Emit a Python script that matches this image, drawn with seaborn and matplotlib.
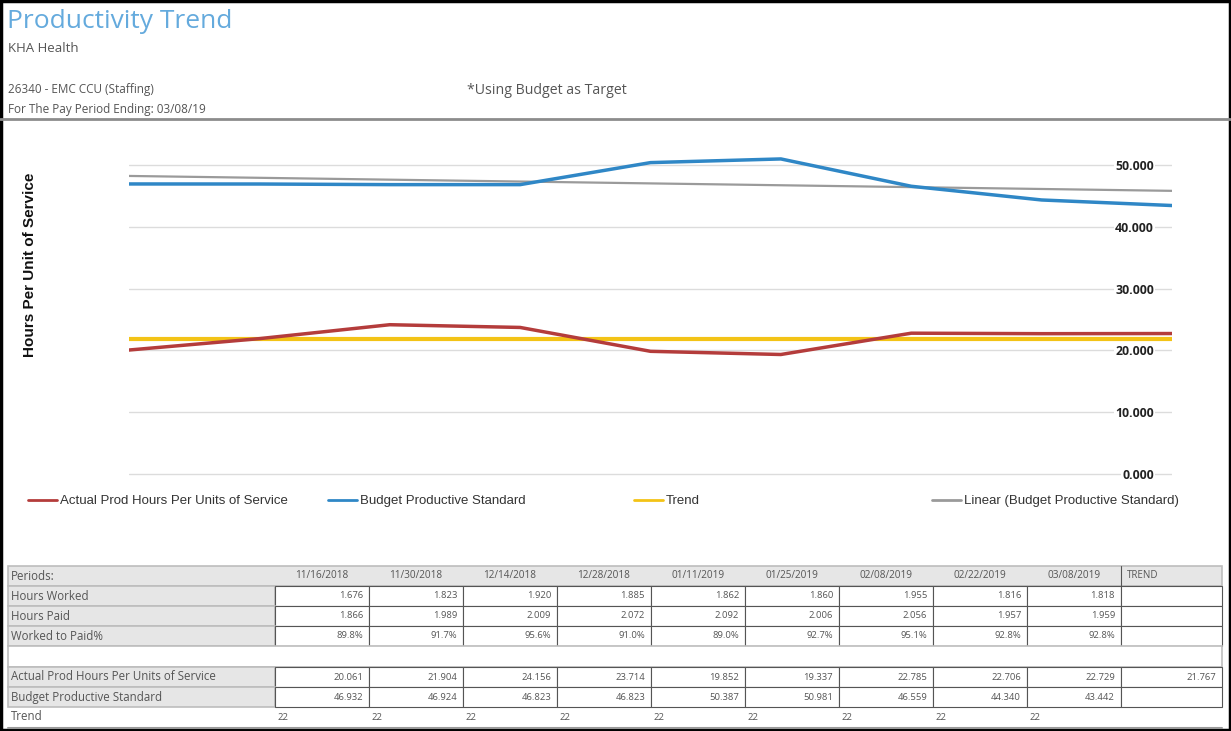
import matplotlib
matplotlib.use("Agg")
import matplotlib.pyplot as plt
import numpy as np
import pandas as pd
import seaborn as sns
from matplotlib.lines import Line2D
from matplotlib.patches import Rectangle

PERIODS = ["11/16/2018", "11/30/2018", "12/14/2018", "12/28/2018", "01/11/2019",
           "01/25/2019", "02/08/2019", "02/22/2019", "03/08/2019"]
HOURS_WORKED = [1.676, 1.823, 1.920, 1.885, 1.862, 1.860, 1.955, 1.816, 1.818]
HOURS_PAID = [1.866, 1.989, 2.009, 2.072, 2.092, 2.006, 2.056, 1.957, 1.959]
WORKED_TO_PAID = [89.8, 91.7, 95.6, 91.0, 89.0, 92.7, 95.1, 92.8, 92.8]
ACTUAL = [20.061, 21.904, 24.156, 23.714, 19.852, 19.337, 22.785, 22.706, 22.729]
BUDGET = [46.932, 46.924, 46.823, 46.823, 50.387, 50.981, 46.559, 44.340, 43.442]
TREND_VALUE = 21.767
TREND_ROW = [22] * 9
YTICKS = [0, 10, 20, 30, 40, 50]

RED = "#b43c3b"
BLUE = "#2f87c6"
YELLOW = "#f3c316"
GRAY = "#9a9a9a"
TXT = "#555555"

sns.set_theme(style="white")
plt.rcParams["font.family"] = ["Open Sans", "DejaVu Sans"]

W, H = 1231, 731
fig = plt.figure(figsize=(W / 100, H / 100), dpi=100)

df = pd.DataFrame({
    "x": np.arange(len(PERIODS)),
    "actual": ACTUAL,
    "budget": BUDGET,
    "trend": [TREND_VALUE] * len(PERIODS),
})

# chart area in pixels: x 129..1172, y(0)=474, 10 units = 61.8 px
left, right = 129, 1172
ymin, ymax = -0.5, 55
bottom_px = 474 + 0.5 * 6.18
top_px = 474 - ymax * 6.18
ax = fig.add_axes([left / W, 1 - bottom_px / H, (right - left) / W, (bottom_px - top_px) / H])

sns.regplot(data=df, x="x", y="budget", scatter=False, ci=None, ax=ax,
            line_kws=dict(color=GRAY, lw=1.6, zorder=2))
sns.lineplot(data=df, x="x", y="trend", ax=ax, color=YELLOW, lw=3, zorder=3)
sns.lineplot(data=df, x="x", y="actual", ax=ax, color=RED, lw=2.5, zorder=4)
sns.lineplot(data=df, x="x", y="budget", ax=ax, color=BLUE, lw=2.5, zorder=4)

ax.set_xlim(0, len(PERIODS) - 1)
ax.set_ylim(ymin, ymax)
ax.set_xticks([])
ax.set_yticks(YTICKS)
ax.set_yticklabels([f"{v:.3f}" for v in YTICKS])
ax.yaxis.tick_right()
ax.tick_params(axis="y", length=0, pad=-13, labelsize=8.8, labelcolor="#222222")
for lab in ax.get_yticklabels():
    lab.set_ha("right")
    lab.set_fontweight("bold")
    lab.set_bbox(dict(facecolor="white", edgecolor="none", pad=1))
ax.grid(axis="y", color="#dcdcdc", lw=1)
ax.set_xlabel("")
ax.set_ylabel("")
for s in ax.spines.values():
    s.set_visible(False)

fig.text(30 / W, 1 - 265 / H, "Hours Per Unit of Service", rotation=90,
         ha="center", va="center", fontsize=11, fontweight="bold",
         family=["Liberation Sans", "DejaVu Sans"], color="#111111")

# legend entries, evenly spaced like the report
entries = [("Actual Prod Hours Per Units of Service", RED, 28),
           ("Budget Productive Standard", BLUE, 328),
           ("Trend", YELLOW, 634),
           ("Linear (Budget Productive Standard)", GRAY, 932)]
for label, col, xpx in entries:
    leg = fig.legend(handles=[Line2D([], [], color=col, lw=2)], labels=[label],
                     loc="center left", bbox_to_anchor=(xpx / W, 1 - 501 / H),
                     frameon=False, handlelength=2.2, handletextpad=0.2,
                     borderaxespad=0, borderpad=0,
                     prop=dict(family="Liberation Sans", size=9.5))
    for t in leg.get_texts():
        t.set_color("#333333")

# ---- overlay in pixel coordinates: header and table ----
ov = fig.add_axes([0, 0, 1, 1], zorder=-1)
ov.set_xlim(0, W)
ov.set_ylim(H, 0)
ov.axis("off")

ov.text(7, 21, "Productivity Trend", fontsize=19, color="#64aadd", va="center")
ov.text(8, 48, "KHA Health", fontsize=9.5, color=TXT, va="center")
ov.text(8, 89, "26340 - EMC CCU (Staffing)", fontsize=8.5, color=TXT, va="center")
ov.text(467, 90, "*Using Budget as Target", fontsize=10.2, color=TXT, va="center")
ov.text(8, 110, "For The Pay Period Ending: 03/08/19", fontsize=8.5, color=TXT, va="center")
ov.plot([0, W], [119, 119], color="#8c8c8c", lw=2)

# table
col0, col1, cw = 8, 275, 94
trend_x1 = 1222
row_h = 20
rows_top = 566
label_bg = "#e6e6e6"
border = "#555555"
LFS, NFS = 8.3, 6.8


def cell(x0, y0, w, h, fc, ec, lw=0.8):
    ov.add_patch(Rectangle((x0, y0), w, h, facecolor=fc, edgecolor=ec, lw=lw))


# header row
cell(col0, rows_top, trend_x1 - col0, row_h, label_bg, "#bdbdbd", 1.2)
ov.text(col0 + 3, rows_top + row_h / 2, "Periods:", fontsize=LFS, color=TXT, va="center")
for i, p in enumerate(PERIODS):
    ov.text(col1 + i * cw + cw / 2, rows_top + row_h / 2, p, fontsize=7.2,
            color=TXT, va="center", ha="center")
ov.plot([col1 + 9 * cw] * 2, [rows_top, rows_top + row_h], color=border, lw=0.8)
ov.text(col1 + 9 * cw + 6, rows_top + row_h / 2, "TREND", fontsize=7, color=TXT, va="center")

body = [
    ("Hours Worked", [f"{v:.3f}" for v in HOURS_WORKED], ""),
    ("Hours Paid", [f"{v:.3f}" for v in HOURS_PAID], ""),
    ("Worked to Paid%", [f"{v:.1f}%" for v in WORKED_TO_PAID], ""),
    None,
    ("Actual Prod Hours Per Units of Service", [f"{v:.3f}" for v in ACTUAL], f"{TREND_VALUE:.3f}"),
    ("Budget Productive Standard", [f"{v:.3f}" for v in BUDGET], ""),
]
y = rows_top + row_h
for r in body:
    if r is None:
        cell(col0, y, trend_x1 - col0, row_h + 1, "white", "#bdbdbd", 1.2)
        y += row_h + 1
        continue
    name, vals, tr = r
    cell(col0, y, col1 - col0, row_h, label_bg, "#bdbdbd", 1.2)
    ov.text(col0 + 3, y + row_h / 2, name, fontsize=LFS, color=TXT, va="center")
    for i, v in enumerate(vals):
        cell(col1 + i * cw, y, cw, row_h, "white", border)
        ov.text(col1 + (i + 1) * cw - 6, y + row_h / 2, v, fontsize=NFS,
                color=TXT, va="center", ha="right")
    cell(col1 + 9 * cw, y, trend_x1 - col1 - 9 * cw, row_h, "white", border)
    if tr:
        ov.text(trend_x1 - 6, y + row_h / 2, tr, fontsize=NFS, color=TXT,
                va="center", ha="right")
    y += row_h

ov.text(col0 + 3, y + row_h / 2, "Trend", fontsize=LFS, color=TXT, va="center")
for i, v in enumerate(TREND_ROW):
    ov.text(col1 + i * cw + 2, y + row_h / 2, str(v), fontsize=NFS, color=TXT, va="center")
ov.plot([col0, trend_x1], [y + row_h + 1, y + row_h + 1], color="#9a9a9a", lw=1.5)

# outer frame
ov.add_patch(Rectangle((1, 1), W - 2, H - 2, facecolor="none", edgecolor="black", lw=2.5))

fig.savefig("out.png", dpi=100)
